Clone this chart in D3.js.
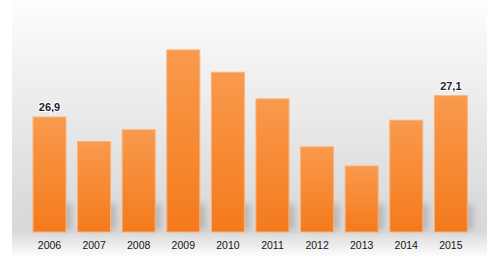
<!DOCTYPE html>
<html lang="en">
<head>
    <meta charset="UTF-8">
    <title>Bar Chart 2006-2015</title>
    <script src="https://d3js.org/d3.v7.min.js"></script>
    <style>
        body {
            margin: 0;
            background: #ffffff;
            font-family: "Liberation Sans", Arial, sans-serif;
        }
        svg { display: block; }
    </style>
</head>
<body>
    <div id="chart"></div>

    <script>
        // data (labels only on first and last bar)
        const years = ["2006", "2007", "2008", "2009", "2010", "2011", "2012", "2013", "2014", "2015"];
        const values = [26.9, 26.67, 26.78, 27.53, 27.32, 27.07, 26.62, 26.44, 26.87, 27.1];
        const labelled = ["2006", "2015"];

        const width = 490;
        const height = 263;
        const baseline = 232;

        const svg = d3.select("#chart")
            .append("svg")
            .attr("width", width)
            .attr("height", height);

        const defs = svg.append("defs");

        // background panel gradient
        const bg = defs.append("linearGradient")
            .attr("id", "bg-grad")
            .attr("x1", 0).attr("y1", 0).attr("x2", 0).attr("y2", 1);
        bg.append("stop").attr("offset", "0%").attr("stop-color", "#fdfdfd");
        bg.append("stop").attr("offset", "30%").attr("stop-color", "#f1f1f1");
        bg.append("stop").attr("offset", "85%").attr("stop-color", "#dcdcdc");
        bg.append("stop").attr("offset", "100%").attr("stop-color", "#d8d8d8");

        const floor = defs.append("linearGradient")
            .attr("id", "floor-grad")
            .attr("x1", 0).attr("y1", 0).attr("x2", 0).attr("y2", 1);
        floor.append("stop").attr("offset", "0%").attr("stop-color", "#dadada");
        floor.append("stop").attr("offset", "100%").attr("stop-color", "#ffffff");

        const barGrad = defs.append("linearGradient")
            .attr("id", "bar-grad")
            .attr("x1", 0).attr("y1", 0).attr("x2", 0).attr("y2", 1);
        barGrad.append("stop").attr("offset", "0%").attr("stop-color", "#f99a4d");
        barGrad.append("stop").attr("offset", "100%").attr("stop-color", "#f47a1c");

        defs.append("filter")
            .attr("id", "blur")
            .attr("x", "-50%").attr("y", "-50%").attr("width", "200%").attr("height", "200%")
            .append("feGaussianBlur")
            .attr("stdDeviation", 3);

        svg.append("rect")
            .attr("x", 12).attr("y", 0)
            .attr("width", 475).attr("height", baseline)
            .attr("fill", "url(#bg-grad)");

        svg.append("rect")
            .attr("x", 12).attr("y", baseline)
            .attr("width", 475).attr("height", 26)
            .attr("fill", "url(#floor-grad)");

        const x = d3.scaleBand()
            .domain(years)
            .range([21.85, 478.5])
            .paddingInner(0.26)
            .paddingOuter(0.25);

        const y = d3.scaleLinear()
            .domain([25.82, 27.1])
            .range([baseline, 95.7]);

        const bars = years.map((yr, i) => ({year: yr, value: values[i]}));

        // soft shadows behind the bars
        svg.append("g")
            .attr("filter", "url(#blur)")
            .selectAll("rect")
            .data(bars)
            .join("rect")
            .attr("x", d => x(d.year) + 6)
            .attr("y", baseline - 28)
            .attr("width", x.bandwidth())
            .attr("height", 26)
            .attr("fill", "#9a9a9a")
            .attr("opacity", 0.55);

        svg.append("g")
            .selectAll("rect")
            .data(bars)
            .join("rect")
            .attr("x", d => x(d.year))
            .attr("y", d => y(d.value))
            .attr("width", x.bandwidth())
            .attr("height", d => baseline - y(d.value))
            .attr("fill", "url(#bar-grad)")
            .attr("stroke", "#fbb27a")
            .attr("stroke-width", 1);

        // value labels
        svg.append("g")
            .selectAll("text")
            .data(bars.filter(d => labelled.includes(d.year)))
            .join("text")
            .attr("x", d => x(d.year) + x.bandwidth() / 2)
            .attr("y", d => y(d.value) - 6)
            .attr("text-anchor", "middle")
            .attr("font-size", "11px")
            .attr("font-weight", "bold")
            .attr("fill", "#1c2233")
            .attr("stroke", "#ffffff")
            .attr("stroke-width", 2)
            .attr("paint-order", "stroke")
            .text(d => d3.format(".1f")(d.value).replace(".", ","));

        // year axis
        const xAxis = svg.append("g")
            .attr("transform", `translate(0,${baseline})`)
            .call(d3.axisBottom(x).tickSize(0).tickPadding(10));
        xAxis.select(".domain").remove();
        xAxis.selectAll("text")
            .attr("font-family", "'Liberation Sans', Arial, sans-serif")
            .attr("font-size", "10.5px")
            .attr("fill", "#151515");
    </script>
</body>
</html>
